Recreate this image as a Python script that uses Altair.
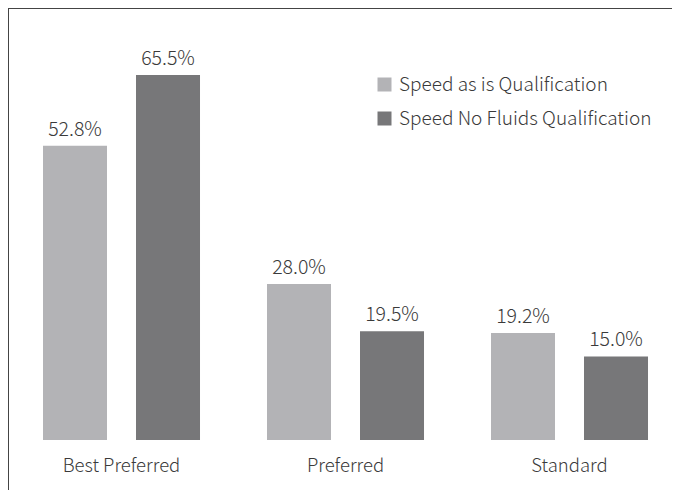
import altair as alt
import pandas as pd

categories = ["Best Preferred", "Preferred", "Standard"]
series = ["Speed as is Qualification", "Speed No Fluids Qualification"]
as_is = [52.8, 28.0, 19.2]
no_fluids = [65.5, 19.5, 15.0]
colors = ["#b3b3b6", "#777779"]

rows = []
for c, a, n in zip(categories, as_is, no_fluids):
    rows.append({"cat": c, "series": series[0], "value": a, "label": f"{a:.1f}%"})
    rows.append({"cat": c, "series": series[1], "value": n, "label": f"{n:.1f}%"})
df = pd.DataFrame(rows)

FONT = "Noto Sans CJK JP"
TXT = "#3a3a3a"
W = 300

x_scale = alt.Scale(range=[1.5, 673.5], paddingInner=0, paddingOuter=0)
x_enc = alt.X("cat:N", sort=categories, axis=None, scale=x_scale)
xo_enc = alt.XOffset("series:N", sort=series,
                     scale=alt.Scale(paddingInner=0.3118, paddingOuter=0.36))
y_enc = alt.Y("value:Q", axis=None,
              scale=alt.Scale(domain=[0, 65.5], range=[432, 67], nice=False, zero=True))

base = alt.Chart(df)

bars = base.mark_bar(size=64).encode(
    x=x_enc,
    xOffset=xo_enc,
    y=y_enc,
    color=alt.Color("series:N", sort=series,
                    scale=alt.Scale(domain=series, range=colors),
                    legend=alt.Legend(title=None, orient="none", legendX=367, legendY=67,
                                      symbolType="square", symbolSize=196,
                                      symbolStrokeWidth=0, labelFontSize=19,
                                      labelFont=FONT, labelColor=TXT,
                                      labelFontWeight=W,
                                      rowPadding=14, labelOffset=5, labelLimit=400)),
)

values = base.mark_text(dy=-10, baseline="alphabetic", fontSize=19.5, font=FONT,
                        color=TXT, fontWeight=W).encode(
    x=x_enc,
    xOffset=xo_enc,
    y=y_enc,
    text="label:N",
)

cat_df = pd.DataFrame({"cat": categories})
cat_labels = alt.Chart(cat_df).mark_text(baseline="alphabetic", fontSize=18.5, font=FONT,
                                         color=TXT, fontWeight=W).encode(
    x=alt.X("cat:N", sort=categories, axis=None, scale=x_scale),
    y=alt.value(464),
    text="cat:N",
)

top_border = alt.Chart(cat_df).mark_rule(color="#444444", strokeWidth=1).encode(
    x=alt.value(-1), x2=alt.value(664), y=alt.value(0.5)
)
left_border = alt.Chart(cat_df).mark_rule(color="#444444", strokeWidth=1).encode(
    x=alt.value(0.5), x2=alt.value(0.5), y=alt.value(0.01), y2=alt.value(482)
)

chart = alt.layer(top_border, left_border, bars, values, cat_labels).properties(
    width=664, height=482,
    autosize=alt.AutoSizeParams(type="none"),
    padding=0,
).configure_view(stroke=None).configure(background="white")

chart.save("out.html", embed_options={"renderer": "svg", "actions": False})
